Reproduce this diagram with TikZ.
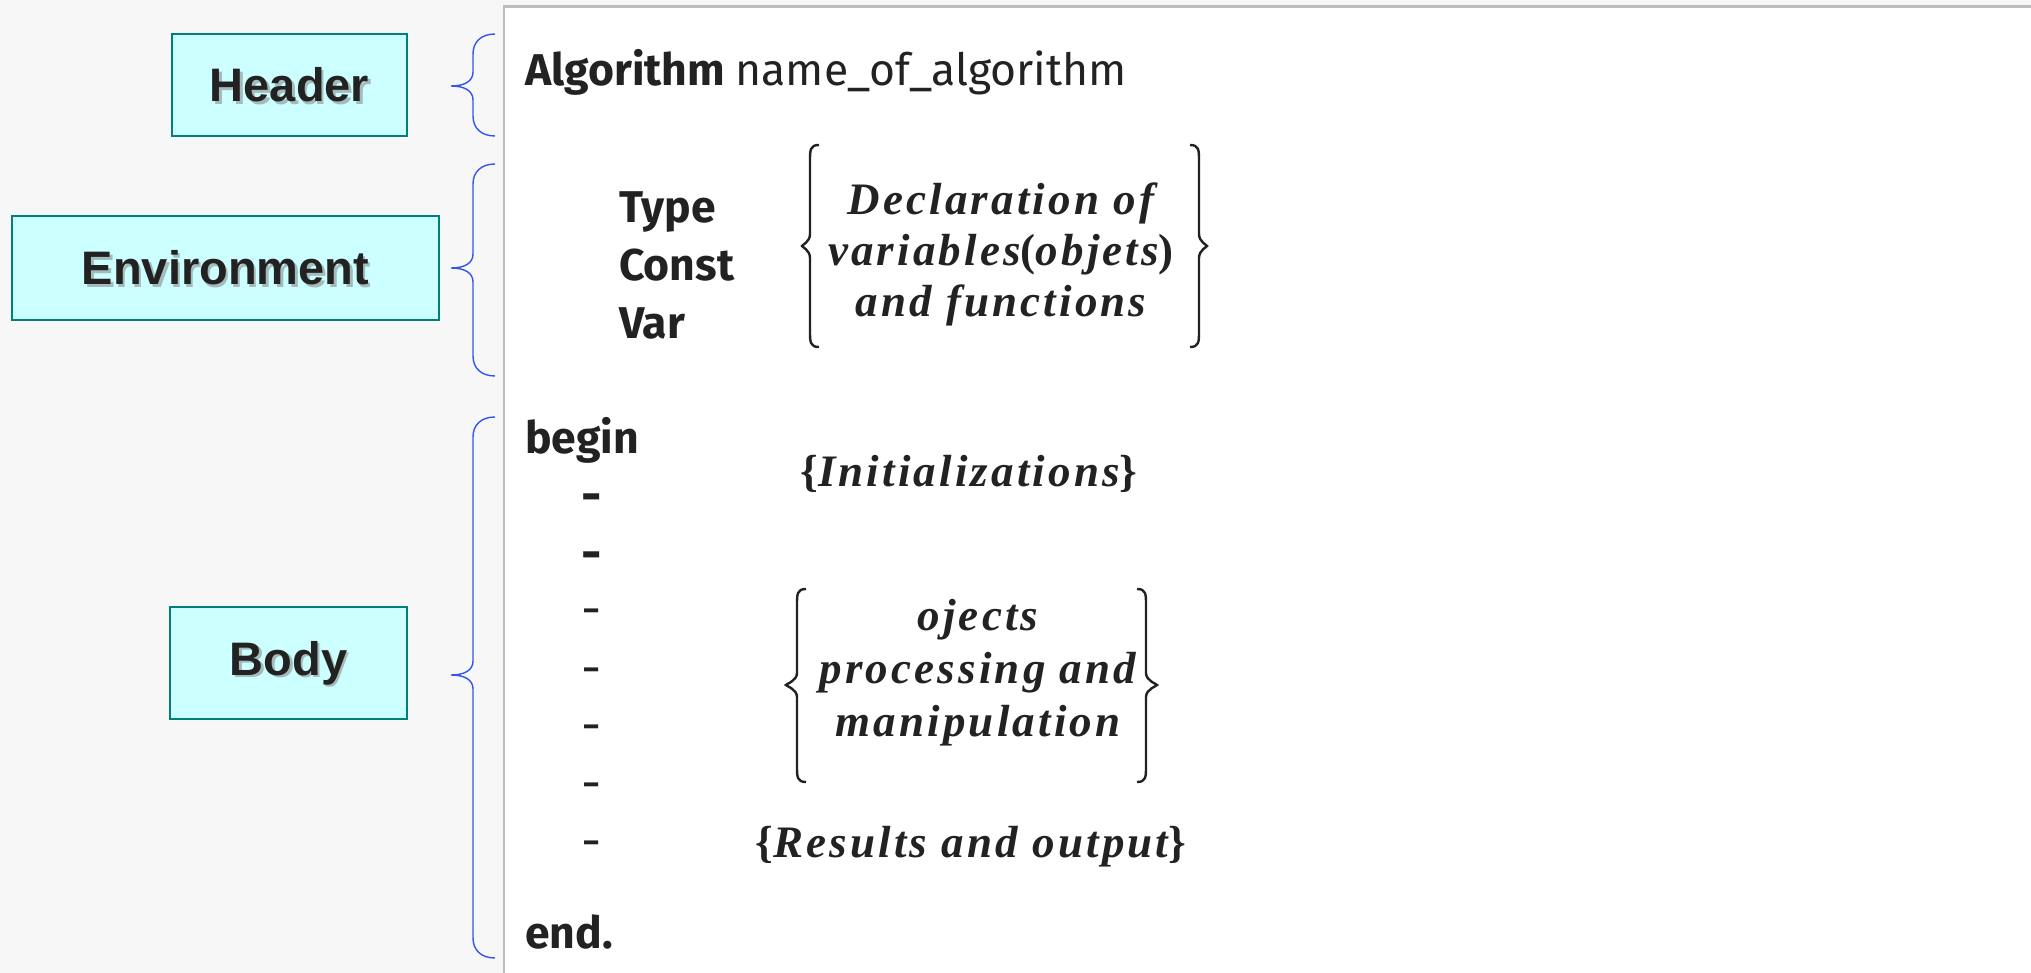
\documentclass[tikz,border=0pt]{standalone}
\usepackage{fontspec}
\setmainfont{Fira Sans}
\newfontfamily\lblfont{Liberation Sans}
\newfontfamily\mfont[LetterSpace=7]{Liberation Serif}
\definecolor{bgcol}{HTML}{F7F7F7}
\definecolor{panelline}{HTML}{BDBDBD}
\definecolor{boxfill}{HTML}{CCFFFF}
\definecolor{boxline}{HTML}{00807A}
\definecolor{braceblue}{HTML}{3355EE}
\definecolor{ink}{HTML}{222222}
\newcommand\bluebrace[3]{%
  \draw[bracestyle] (495,#1) .. controls (481,#1) and (473,{#1+8}) .. (473,{#1+20})
    -- (473,{#2-14}) .. controls (473,{#2-5}) and (465,#2) .. (451,#2)
    .. controls (465,#2) and (473,{#2+5}) .. (473,{#2+14})
    -- (473,{#3-20}) .. controls (473,{#3-8}) and (481,#3) .. (495,#3);}
% end x, vertical x, tip x, top, mid, bottom
\newcommand\mathbrace[6]{%
  \draw[mbrace] (#1,#4) .. controls (#2,#4) and (#2,{#4+5}) .. (#2,{#4+16})
    -- (#2,{#5-12}) .. controls (#2,{#5-4}) and (#3,{#5-1}) .. (#3,#5)
    .. controls (#3,{#5+1}) and (#2,{#5+4}) .. (#2,{#5+12})
    -- (#2,{#6-16}) .. controls (#2,{#6-5}) and (#2,#6) .. (#1,#6);}
\begin{document}
\begin{tikzpicture}[x=1pt,y=-1pt,
  box/.style={draw=boxline, line width=2.2pt, fill=boxfill, inner sep=0pt},
  lbltxt/.style={text=ink, font=\lblfont\bfseries\fontsize{47}{56}\selectfont},
  lblshadow/.style={text=black!45, opacity=0.6, font=\lblfont\bfseries\fontsize{47}{56}\selectfont},
  bracestyle/.style={draw=braceblue, line width=1.4pt},
  mbrace/.style={draw=ink, line width=2.4pt},
  kw/.style={anchor=base west, text=ink, font=\bfseries\fontsize{44.5}{52}\selectfont, inner sep=0pt},
  dashtxt/.style={text=ink, font=\bfseries\fontsize{50}{52}\selectfont, inner sep=0pt},
  thindash/.style={dashtxt, font=\mdseries\fontsize{50}{52}\selectfont},
  mtxt/.style={text=ink, align=center, font=\mfont\bfseries\itshape\fontsize{45}{51}\selectfont, inner sep=0pt}]
\useasboundingbox (0,0) rectangle (2031,973);
\fill[bgcol] (0,0) rectangle (2031,973);
\fill[white] (504,6.5) rectangle (2031,973);
\draw[panelline, line width=2.5pt] (504,973) -- (504,6.5) -- (2031,6.5);

% label boxes
\node[box, minimum width=235pt, minimum height=102pt] (hdr) at (289.5,85) {};
\node[lblshadow] at ([shift={(2.5,2.5)}]hdr.center) {Header};
\node[lbltxt] (hdrt) at (hdr.center) {Header};
\node[box, minimum width=427pt, minimum height=104pt] (env) at (225.5,268) {};
\node[lblshadow] at ([shift={(2.5,2.5)}]env.center) {Environment};
\node[lbltxt] (envt) at (env.center) {Environment};
\node[box, minimum width=237pt, minimum height=112pt] (bdy) at (288.5,663) {};
\node[lblshadow] at ([shift={(2.5,2.5)}]bdy.center) {Body};
\node[lbltxt] (bdyt) at (bdy.center) {Body};

% blue braces
\bluebrace{34}{86}{136}
\bluebrace{164}{268}{376}
\bluebrace{417}{675}{958}

% header
\node[kw] (alg) at (525,86) {Algorithm \mdseries name\_of\_algorithm};

% environment
\node[kw] (type) at (619,223) {Type};
\node[kw] (const) at (619,281) {Const};
\node[kw] (var) at (619,338) {Var};
\node[mtxt] (decl) at (1001,254) {Declaration of\\variables{\upshape(}objets{\upshape)}\\and functions};
\mathbrace{819}{810}{802}{145}{246}{347}
\mathbrace{1190}{1199}{1207}{145}{246}{347}

% body
\node[kw] (begin) at (525,453) {begin};
\node[dashtxt] (d1) at (592,503) {-};
\node[dashtxt] (d2) at (592,561) {-};
\node[thindash] (d3) at (592,618) {-};
\node[thindash] (d4) at (592,677) {-};
\node[thindash] (d5) at (592,734) {-};
\node[thindash] (d6) at (592,792) {-};
\node[thindash] (d7) at (592,850) {-};
\node[kw] (end) at (525,948) {end.};

\node[mtxt] (init) at (969,474) {{\upshape\{}Initializations{\upshape\}}};
\node[mtxt, font=\mfont\bfseries\itshape\fontsize{45}{53}\selectfont] (proc) at (978,673) {ojects\\processing and\\manipulation};
\mathbrace{806}{797}{786}{589}{685}{782}
\mathbrace{1137}{1146}{1157}{589}{685}{782}
\node[mtxt] (res) at (971,847) {{\upshape\{}Results and output{\upshape\}}};
\end{tikzpicture}
\end{document}
